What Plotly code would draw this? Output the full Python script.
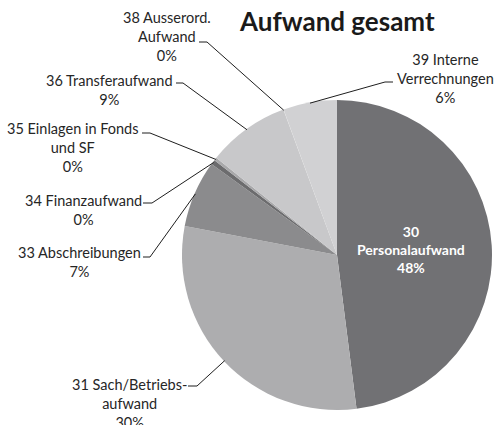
import math
import plotly.graph_objects as go

# ---- data ----
codes = ["30", "31", "33", "34", "35", "36", "38", "39"]
names = ["Personalaufwand", "Sach/Betriebs-aufwand", "Abschreibungen", "Finanzaufwand",
         "Einlagen in Fonds und SF", "Transferaufwand", "Ausserord. Aufwand", "Interne Verrechnungen"]
values = [48.0, 30.0, 7.0, 0.5, 0.3, 8.6, 0.02, 5.6]
label_lines = [
    ["30", "Personalaufwand"],
    ["31 Sach/Betriebs-", "aufwand"],
    ["33 Abschreibungen"],
    ["34 Finanzaufwand"],
    ["35 Einlagen in Fonds", "und SF"],
    ["36 Transferaufwand"],
    ["38 Ausserord.", "Aufwand"],
    ["39 Interne", "Verrechnungen"],
]
colors = ["#717174", "#adadaf", "#8b8b8d", "#6c6c6e", "#a8a8aa", "#c8c8ca", "#e4e4e4", "#d1d1d3"]

# ---- layout geometry (pixels) ----
W, H = 494, 425
CX, CY, R = 337, 255, 155
FONT = "Lato, Carlito, Calibri, sans-serif"

# label block centres and leader start (tick) positions, in pixels
label_pos = {
    1: (129, 403), 2: (79, 262), 3: (83, 210), 4: (73, 147),
    5: (109, 90), 6: (167, 37), 7: (445, 78),
}
tick = {  # (x_outer, x_inner, y): short horizontal segment, then diagonal from x_inner
    1: (188, 197, 386), 2: (143, 150, 257), 3: (143, 152, 203), 4: (142, 150, 133),
    5: (176, 183, 83), 6: (199, 207, 42), 7: (393, 385, 82),
}

def px(x):
    return x / W

def py(y):
    return 1 - y / H

total = sum(values)
fig = go.Figure(go.Pie(
    values=values,
    labels=[c + " " + n for c, n in zip(codes, names)],
    sort=False,
    direction="clockwise",
    rotation=0,
    marker=dict(colors=colors, line=dict(width=0)),
    textinfo="none",
    hoverinfo="label+percent",
    domain=dict(x=[px(CX - R), px(CX + R)], y=[py(CY + R), py(CY - R)]),
    showlegend=False,
))

annotations = []
shapes = []
cum = 0.0
for i, v in enumerate(values):
    mid = (cum + v / 2) / total * 2 * math.pi
    cum += v
    pct = f"{round(v / total * 100):.0f}%"
    if i == 0:
        text = "<br>".join(label_lines[i] + [pct])
        annotations.append(dict(x=px(411), y=py(249), xref="paper", yref="paper",
                                text=text, showarrow=False,
                                xanchor="center", yanchor="middle",
                                font=dict(family=FONT, size=14, color="white", weight="bold")))
        continue
    lx, ly = label_pos[i]
    annotations.append(dict(x=px(lx), y=py(ly), xref="paper", yref="paper",
                            text="<br>".join(label_lines[i] + [pct]), showarrow=False,
                            xanchor="center", yanchor="middle",
                            font=dict(family=FONT, size=14.5, color="#262626")))
    ex = CX + R * 0.995 * math.sin(mid)
    ey = CY - R * 0.995 * math.cos(mid)
    x0, x1, ty = tick[i]
    path = f"M {px(x0)} {py(ty)} L {px(x1)} {py(ty)} L {px(ex)} {py(ey)}"
    shapes.append(dict(type="path", path=path, xref="paper", yref="paper",
                       line=dict(color="#1e1e1e", width=1)))

annotations.append(dict(x=px(337), y=py(21), xref="paper", yref="paper",
                        text="<b>Aufwand gesamt</b>", showarrow=False,
                        xanchor="center", yanchor="middle",
                        font=dict(family=FONT, size=26, color="#1a1a1a")))

fig.update_layout(
    width=W, height=H,
    margin=dict(l=0, r=0, t=0, b=0),
    paper_bgcolor="white",
    plot_bgcolor="white",
    annotations=annotations,
    shapes=shapes,
)

fig.write_html("out.html", config={"displayModeBar": False},
               post_script="document.body.style.margin='0';")
